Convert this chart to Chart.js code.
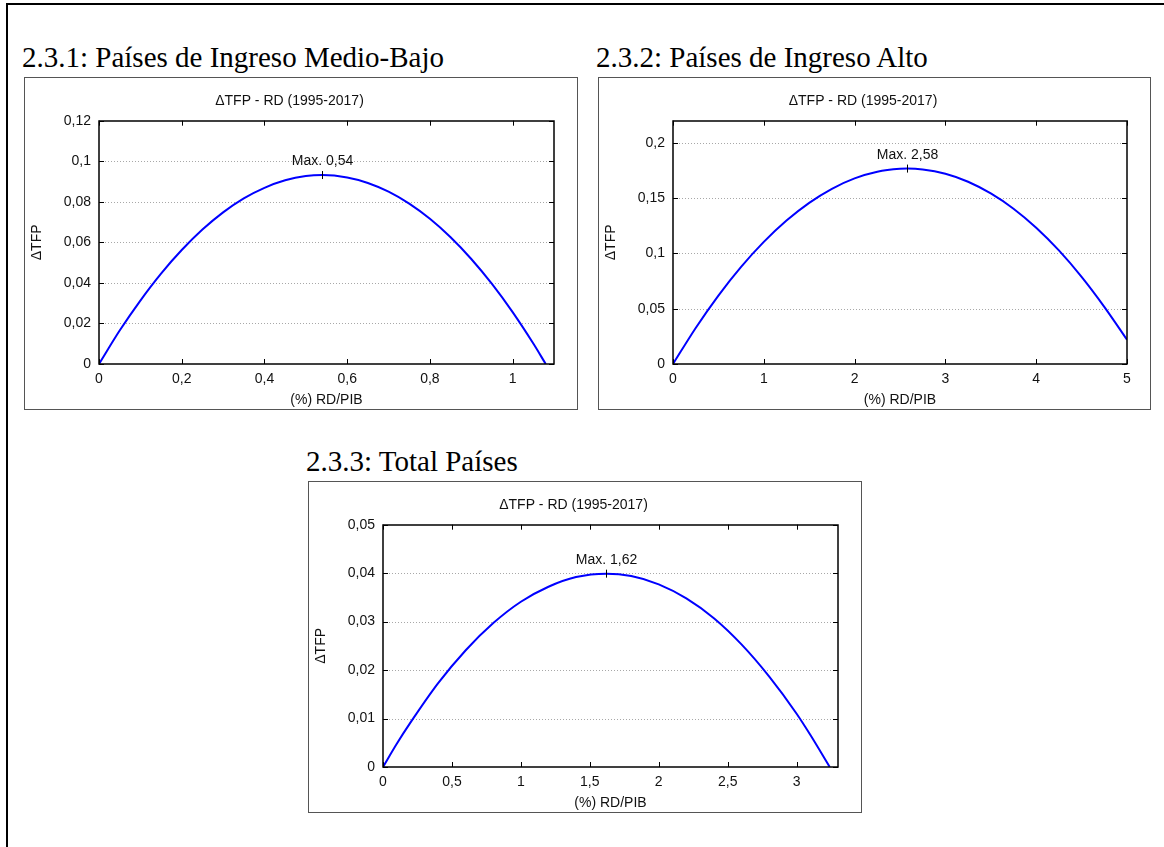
<!DOCTYPE html>
<html lang="es">
<head>
<meta charset="utf-8">
<title>ΔTFP - RD (1995-2017)</title>
<script src="https://cdn.jsdelivr.net/npm/chart.js@4.4.1/dist/chart.umd.min.js"></script>
<style>
  html, body { margin: 0; padding: 0; background: #fff; }
  body { width: 1164px; height: 847px; position: relative; overflow: hidden; }
  .sheet { position: absolute; left: 6px; top: 3px; width: 1400px; height: 1100px;
           border-top: 2px solid #000; border-left: 2px solid #000; }
  .heading { position: absolute; font-family: 'Liberation Serif', 'Times New Roman', serif;
             font-size: 29px; line-height: 29px; color: #000; white-space: nowrap; }
  .panel { position: absolute; border: 1px solid #555; box-sizing: border-box; background: #fff; }
  .panel canvas { display: block; }
</style>
</head>
<body>
<div class="sheet"></div>

<div class="heading" style="left:22px; top:43px;">2.3.1: Países de Ingreso Medio-Bajo</div>
<div class="panel" style="left:24px; top:77px; width:554px; height:333px;">
  <canvas id="chartMedioBajo" width="552" height="331"></canvas>
</div>

<div class="heading" style="left:596px; top:43px;">2.3.2: Países de Ingreso Alto</div>
<div class="panel" style="left:598px; top:77px; width:553px; height:333px;">
  <canvas id="chartAlto" width="551" height="331"></canvas>
</div>

<div class="heading" style="left:306px; top:447px;">2.3.3: Total Países</div>
<div class="panel" style="left:308px; top:481px; width:554px; height:332px;">
  <canvas id="chartTotal" width="552" height="330"></canvas>
</div>

<script>
// ============================================
// Data
// ============================================
const chartTitle = 'ΔTFP - RD (1995-2017)';
const xAxisTitle = '(%) RD/PIB';
const yAxisTitle = 'ΔTFP';

// 2.3.1 Países de ingreso medio-bajo
const rdMedioBajo = [0, 0.05, 0.1, 0.15, 0.2, 0.25, 0.3, 0.35, 0.4, 0.45, 0.5, 0.54, 0.6, 0.65, 0.7, 0.75, 0.8, 0.85, 0.9, 0.95, 1.0, 1.05, 1.08];
const tfpMedioBajo = [0, 0.0165, 0.0313, 0.0446, 0.0562, 0.0663, 0.0748, 0.0817, 0.0869, 0.0906, 0.0927, 0.0932, 0.0920, 0.0893, 0.0850, 0.0791, 0.0716, 0.0625, 0.0518, 0.0395, 0.0256, 0.0101, 0];
const xTicksMedioBajo = [0, 0.2, 0.4, 0.6, 0.8, 1];
const xLabelsMedioBajo = ['0', '0,2', '0,4', '0,6', '0,8', '1'];
const yTicksMedioBajo = [0, 0.02, 0.04, 0.06, 0.08, 0.1, 0.12];
const yLabelsMedioBajo = ['0', '0,02', '0,04', '0,06', '0,08', '0,1', '0,12'];
const maxRdMedioBajo = 0.54;
const maxTfpMedioBajo = 0.0932;

// 2.3.2 Países de ingreso alto
const rdAlto = [0, 0.25, 0.5, 0.75, 1, 1.25, 1.5, 1.75, 2, 2.25, 2.5, 2.58, 2.75, 3, 3.25, 3.5, 3.75, 4, 4.25, 4.5, 4.75, 5];
const tfpAlto = [0, 0.0326, 0.0619, 0.0878, 0.1104, 0.1297, 0.1457, 0.1584, 0.1678, 0.1738, 0.1765, 0.1767, 0.1759, 0.1720, 0.1648, 0.1542, 0.1404, 0.1232, 0.1027, 0.0788, 0.0517, 0.0220];
const xTicksAlto = [0, 1, 2, 3, 4, 5];
const xLabelsAlto = ['0', '1', '2', '3', '4', '5'];
const yTicksAlto = [0, 0.05, 0.1, 0.15, 0.2];
const yLabelsAlto = ['0', '0,05', '0,1', '0,15', '0,2'];
const maxRdAlto = 2.58;
const maxTfpAlto = 0.1767;

// 2.3.3 Total países
const rdTotal = [0, 0.1, 0.2, 0.4, 0.6, 0.8, 1.0, 1.2, 1.4, 1.62, 1.8, 2.0, 2.2, 2.4, 2.6, 2.8, 3.0, 3.1, 3.24];
const tfpTotal = [0, 0.0048, 0.0092, 0.0173, 0.0241, 0.0297, 0.0341, 0.0372, 0.0392, 0.0399, 0.0394, 0.0377, 0.0348, 0.0307, 0.0253, 0.0187, 0.0110, 0.0066, 0];
const xTicksTotal = [0, 0.5, 1, 1.5, 2, 2.5, 3];
const xLabelsTotal = ['0', '0,5', '1', '1,5', '2', '2,5', '3'];
const yTicksTotal = [0, 0.01, 0.02, 0.03, 0.04, 0.05];
const yLabelsTotal = ['0', '0,01', '0,02', '0,03', '0,04', '0,05'];
const maxRdTotal = 1.62;
const maxTfpTotal = 0.0399;

// ============================================
// Helpers
// ============================================
const FONT = "'Liberation Sans', Arial, Helvetica, sans-serif";
const TEXT = '#111';
const SIZE = 14;

function decimalComma(v) {
    return String(v).replace('.', ',');
}

// gnuplot-like frame: dotted grid, boxed plot with inward ticks, max marker
const gnuplotFrame = {
    id: 'gnuplotFrame',
    beforeDatasetsDraw(chart) {
        const { ctx, chartArea: a, scales: { y } } = chart;
        ctx.save();
        ctx.strokeStyle = '#a8a8a8';
        ctx.lineWidth = 1;
        ctx.setLineDash([1, 2]);
        ctx.beginPath();
        y.ticks.forEach(t => {
            const py = Math.round(y.getPixelForValue(t.value)) + 0.5;
            if (py > a.top + 1 && py < a.bottom - 1) {
                ctx.moveTo(a.left, py);
                ctx.lineTo(a.right, py);
            }
        });
        ctx.stroke();
        ctx.restore();
    },
    afterDatasetsDraw(chart, args, opts) {
        const { ctx, chartArea: a, scales: { x, y } } = chart;
        ctx.save();
        ctx.strokeStyle = '#000';
        ctx.lineWidth = 1;
        ctx.beginPath();
        x.ticks.forEach(t => {
            const px = Math.round(x.getPixelForValue(t.value)) + 0.5;
            ctx.moveTo(px, a.bottom); ctx.lineTo(px, a.bottom - 5);
            ctx.moveTo(px, a.top); ctx.lineTo(px, a.top + 5);
        });
        y.ticks.forEach(t => {
            const py = Math.round(y.getPixelForValue(t.value)) + 0.5;
            ctx.moveTo(a.left, py); ctx.lineTo(a.left + 5, py);
            ctx.moveTo(a.right, py); ctx.lineTo(a.right - 5, py);
        });
        ctx.stroke();

        ctx.lineWidth = 1.5;
        ctx.strokeRect(Math.round(a.left), Math.round(a.top), Math.round(a.width), Math.round(a.height));

        // maximum of the curve
        const mx = Math.round(x.getPixelForValue(opts.maxX)) + 0.5;
        const my = y.getPixelForValue(opts.maxY);
        ctx.lineWidth = 1;
        ctx.beginPath();
        ctx.moveTo(mx, my - 4);
        ctx.lineTo(mx, my + 4);
        ctx.stroke();
        ctx.fillStyle = TEXT;
        ctx.font = SIZE + 'px ' + FONT;
        ctx.textAlign = 'center';
        ctx.textBaseline = 'alphabetic';
        ctx.fillText('Max. ' + decimalComma(opts.maxX), mx, my - 10);
        ctx.restore();
    }
};

function makeChart(id, xs, ys, xMax, yMax, xTicks, xLabels, yTicks, yLabels, maxX, maxY) {
    const ctx = document.getElementById(id);
    return new Chart(ctx, {
        type: 'line',
        data: {
            datasets: [{
                data: xs.map((v, i) => ({ x: v, y: ys[i] })),
                borderColor: '#0000ff',
                borderWidth: 2,
                pointRadius: 0,
                cubicInterpolationMode: 'monotone',
                fill: false
            }]
        },
        options: {
            responsive: false,
            animation: false,
            events: [],
            layout: { padding: { top: 0, right: 23, bottom: 0, left: 0 } },
            plugins: {
                legend: { display: false },
                tooltip: { enabled: false },
                title: {
                    display: true,
                    text: chartTitle,
                    color: TEXT,
                    font: { family: FONT, size: SIZE, weight: 'normal', lineHeight: 1.2 },
                    padding: { top: 14.7, bottom: 11.2 }
                },
                gnuplotFrame: { maxX: maxX, maxY: maxY }
            },
            scales: {
                x: {
                    type: 'linear',
                    min: 0,
                    max: xMax,
                    afterBuildTicks: s => { s.ticks = xTicks.map(v => ({ value: v })); },
                    afterFit: s => { s.height = 45; },
                    grid: { display: false, drawTicks: false },
                    border: { display: false },
                    ticks: {
                        callback: (v, i) => xLabels[i],
                        color: TEXT,
                        font: { family: FONT, size: SIZE },
                        padding: 7,
                        maxRotation: 0,
                        autoSkip: false
                    },
                    title: {
                        display: true,
                        text: xAxisTitle,
                        color: TEXT,
                        font: { family: FONT, size: SIZE },
                        padding: { top: 0, bottom: 0 }
                    }
                },
                y: {
                    type: 'linear',
                    min: 0,
                    max: yMax,
                    afterBuildTicks: s => { s.ticks = yTicks.map(v => ({ value: v })); },
                    afterFit: s => { s.width = 74; },
                    grid: { display: false, drawTicks: false },
                    border: { display: false },
                    ticks: {
                        callback: (v, i) => yLabels[i],
                        color: TEXT,
                        font: { family: FONT, size: SIZE },
                        padding: 8,
                        autoSkip: false
                    },
                    title: {
                        display: true,
                        text: yAxisTitle,
                        color: TEXT,
                        font: { family: FONT, size: SIZE },
                        padding: { top: 3.6, bottom: 0 }
                    }
                }
            }
        },
        plugins: [gnuplotFrame]
    });
}

// ============================================
// Charts
// ============================================
makeChart('chartMedioBajo', rdMedioBajo, tfpMedioBajo, 1.1, 0.12,
    xTicksMedioBajo, xLabelsMedioBajo, yTicksMedioBajo, yLabelsMedioBajo, maxRdMedioBajo, maxTfpMedioBajo);
makeChart('chartAlto', rdAlto, tfpAlto, 5, 0.22,
    xTicksAlto, xLabelsAlto, yTicksAlto, yLabelsAlto, maxRdAlto, maxTfpAlto);
makeChart('chartTotal', rdTotal, tfpTotal, 3.3, 0.05,
    xTicksTotal, xLabelsTotal, yTicksTotal, yLabelsTotal, maxRdTotal, maxTfpTotal);
</script>
</body>
</html>
